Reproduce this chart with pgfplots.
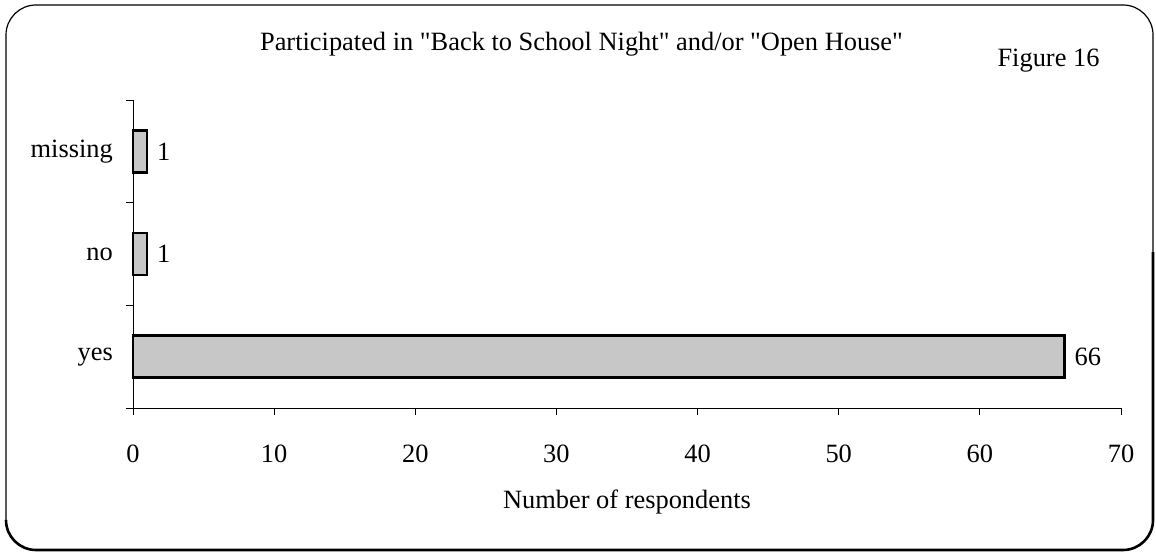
\documentclass[border=0pt]{standalone}
\usepackage{pgfplots}
\pgfplotsset{compat=1.18}
\usepackage{fontspec}
\setmainfont{Liberation Serif}
\newcommand{\f}{\fontsize{13.2bp}{15.8bp}\selectfont}
\begin{document}
\f
\begin{tikzpicture}[x=1bp,y=1bp]
\useasboundingbox (0,0) rectangle (578,276);
\draw[line width=0.6bp, rounded corners=15bp] (3,1) rectangle (576.5,273.5);
\draw[line width=1.3bp, rounded corners=15bp] (576.5,150) -- (576.5,1) -- (3,1) -- (3,16);
\node[font=\f] at (290.75,254) {Participated in \textquotedbl Back to School Night\textquotedbl{} and/or \textquotedbl Open House\textquotedbl};
\node[font=\f] at (524.25,245.6) {Figure 16};
\node[font=\f] at (313.5,25) {Number of respondents};
\begin{axis}[
  at={(66.5bp,72bp)}, anchor=south west,
  width=494bp, height=154bp, scale only axis,
  xmin=0, xmax=70, ymin=-0.5, ymax=2.5,
  xtick={0,10,...,70},
  ytick={-0.5,0.5,1.5,2.5}, yticklabels={},
  extra y ticks={0,1,2},
  extra y tick labels={yes,no,missing},
  extra y tick style={major tick length=0pt, yticklabel style={xshift=-5.5bp}},
  axis x line*=bottom, axis y line*=left,
  axis line style={-, line width=0.5bp},
  every tick/.style={black, line width=0.5bp},
  tick align=outside,
  major tick length=3.5bp,
  /pgf/number format/assume math mode=true,
  ticklabel style={font=\f},
  xticklabel style={yshift=-10.25bp},
  clip=false,
]
\addplot[xbar, bar width=0.41, fill=black!22, draw=black, line width=1.3bp,
  nodes near coords, nodes near coords align={horizontal},
  every node near coord/.append style={font=\f, black}]
  coordinates {(66,0) (1,1) (1,2)};
\end{axis}
\end{tikzpicture}
\end{document}
